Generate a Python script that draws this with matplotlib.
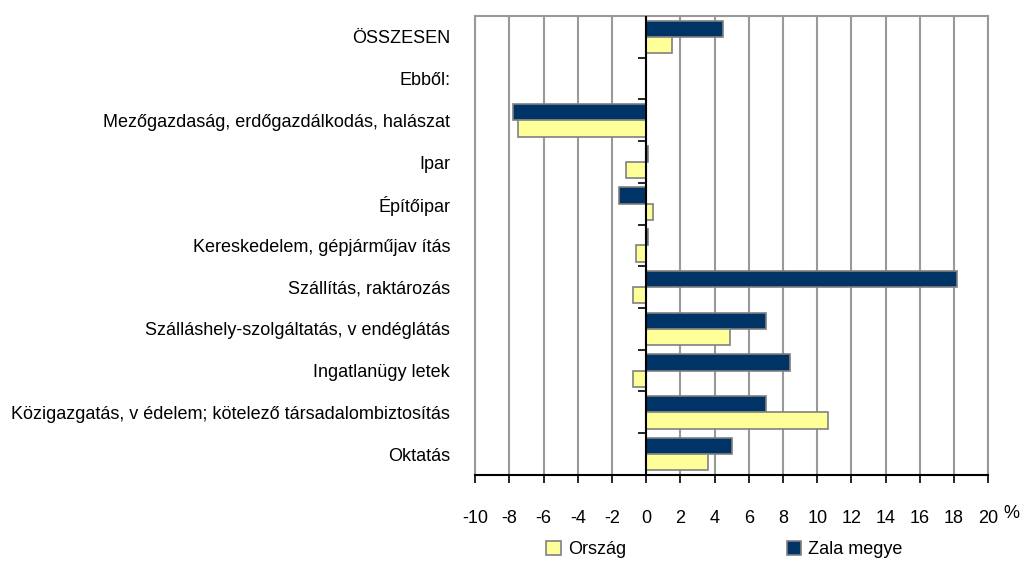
import matplotlib.pyplot as plt
import numpy as np

plt.rcParams['font.family'] = ['Liberation Sans', 'DejaVu Sans']

# Data
categories = [
    "ÖSSZESEN",
    "Ebből:",
    "Mezőgazdaság, erdőgazdálkodás, halászat",
    "Ipar",
    "Építőipar",
    "Kereskedelem, gépjárműjav ítás",
    "Szállítás, raktározás",
    "Szálláshely-szolgáltatás, v endéglátás",
    "Ingatlanügy letek",
    "Közigazgatás, v édelem; kötelező társadalombiztosítás",
    "Oktatás",
]
zala = [4.5, np.nan, -7.8, 0.1, -1.6, 0.1, 18.2, 7.0, 8.4, 7.0, 5.0]
orszag = [1.5, np.nan, -7.5, -1.2, 0.4, -0.6, -0.8, 4.9, -0.8, 10.6, 3.6]
xticks = list(range(-10, 21, 2))

col_zala = '#003366'
col_orszag = '#FFFF99'
edge = '#808080'

fig = plt.figure(figsize=(10.22, 5.62), dpi=100)
ax = fig.add_axes([0.465, 0.155, 0.502, 0.8165])

y = np.arange(len(categories))
h = 0.39
ax.barh(y - h / 2, zala, height=h, color=col_zala, edgecolor=edge, linewidth=1.2, zorder=3, label='Zala megye')
ax.barh(y + h / 2, orszag, height=h, color=col_orszag, edgecolor=edge, linewidth=1.2, zorder=3, label='Ország')
ax.axvline(0, color='black', linewidth=1.5, zorder=4)

ax.set_xlim(-10, 20)
ax.set_ylim(len(categories) - 0.5, -0.5)
ax.set_xticks(xticks)
ax.set_xticklabels([str(t) for t in xticks], fontsize=13)
ax.tick_params(axis='x', direction='out', length=6, width=1.2, pad=19, color='black')
ax.grid(axis='x', color='#999999', linewidth=1.5, zorder=0)

ax.set_yticks(y)
ax.set_yticklabels(categories, fontsize=13)
ax.tick_params(axis='y', length=0, pad=18)

for s in ['top', 'left', 'right']:
    ax.spines[s].set_color('#999999')
    ax.spines[s].set_linewidth(1.5)
ax.spines['bottom'].set_color('black')
ax.spines['bottom'].set_linewidth(1.5)

# category separator ticks on the zero line
zero_pos = (0 - (-10)) / 30
sec = ax.secondary_yaxis(zero_pos)
sec.set_yticks([])
sec.set_yticks(np.arange(len(categories) + 1) - 0.5, minor=True)
sec.tick_params(which='minor', direction='out', length=6, width=1.2, labelleft=False)
sec.spines['left'].set_visible(False)

fig.text(0.99, 0.087, '%', fontsize=13, ha='center', va='center')

handles, labels = ax.get_legend_handles_labels()
leg = fig.legend(handles[::-1], labels[::-1], loc='center', bbox_to_anchor=(0.709, 0.022), ncol=2,
                 frameon=False, fontsize=13, columnspacing=8.9, handlelength=0.8, handleheight=0.8,
                 handletextpad=0.4)

fig.savefig('out.png', dpi=100)
